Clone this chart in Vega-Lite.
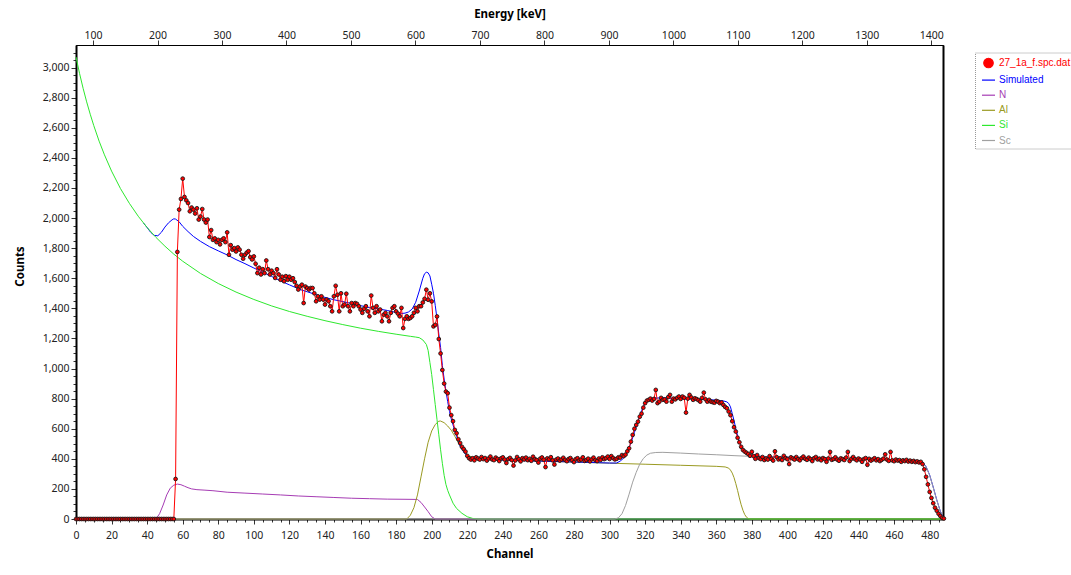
{
  "$schema": "https://vega.github.io/schema/vega-lite/v6.json",
  "width": 867,
  "height": 474,
  "autosize": {"type": "none"},
  "padding": {"left": 76, "top": 45, "right": 128, "bottom": 56},
  "background": "white",
  "config": {
    "font": "Noto Sans",
    "view": {"stroke": "#000", "strokeWidth": 1},
    "axis": {"labelFont": "Noto Sans", "labelFontSize": 10.5, "labelColor": "#222", "titleFont": "Noto Sans", "titleFontSize": 11.5, "titleFontWeight": "bold", "titleColor": "#000", "grid": false, "domainColor": "#000", "tickColor": "#333", "labelOverlap": false}
  },
  "datasets": {
    "obs": [
      {"ch":0,"c":0},{"ch":1,"c":0},{"ch":2,"c":0},{"ch":3,"c":0},{"ch":4,"c":0},{"ch":5,"c":0},{"ch":6,"c":0},{"ch":7,"c":0},{"ch":8,"c":0},{"ch":9,"c":0},
      {"ch":10,"c":0},{"ch":11,"c":0},{"ch":12,"c":0},{"ch":13,"c":0},{"ch":14,"c":0},{"ch":15,"c":0},{"ch":16,"c":0},{"ch":17,"c":0},{"ch":18,"c":0},{"ch":19,"c":0},
      {"ch":20,"c":0},{"ch":21,"c":0},{"ch":22,"c":0},{"ch":23,"c":0},{"ch":24,"c":0},{"ch":25,"c":0},{"ch":26,"c":0},{"ch":27,"c":0},{"ch":28,"c":0},{"ch":29,"c":0},
      {"ch":30,"c":0},{"ch":31,"c":0},{"ch":32,"c":0},{"ch":33,"c":0},{"ch":34,"c":0},{"ch":35,"c":0},{"ch":36,"c":0},{"ch":37,"c":0},{"ch":38,"c":0},{"ch":39,"c":0},
      {"ch":40,"c":0},{"ch":41,"c":0},{"ch":42,"c":0},{"ch":43,"c":0},{"ch":44,"c":0},{"ch":45,"c":0},{"ch":46,"c":0},{"ch":47,"c":0},{"ch":48,"c":0},{"ch":49,"c":0},
      {"ch":50,"c":0},{"ch":51,"c":0},{"ch":52,"c":0},{"ch":53,"c":0},{"ch":54,"c":0},{"ch":55,"c":0},{"ch":56,"c":266},{"ch":57,"c":1775},{"ch":58,"c":2056},{"ch":59,"c":2127},
      {"ch":60,"c":2262},{"ch":61,"c":2140},{"ch":62,"c":2118},{"ch":63,"c":2100},{"ch":64,"c":2045},{"ch":65,"c":2070},{"ch":66,"c":2056},{"ch":67,"c":2030},{"ch":68,"c":2065},{"ch":69,"c":1990},
      {"ch":70,"c":2010},{"ch":71,"c":2060},{"ch":72,"c":1990},{"ch":73,"c":1970},{"ch":74,"c":1990},{"ch":75,"c":1874},{"ch":76,"c":1920},{"ch":77,"c":1855},{"ch":78,"c":1865},{"ch":79,"c":1840},
      {"ch":80,"c":1855},{"ch":81,"c":1825},{"ch":82,"c":1855},{"ch":83,"c":1865},{"ch":84,"c":1840},{"ch":85,"c":1905},{"ch":86,"c":1756},{"ch":87,"c":1820},{"ch":88,"c":1790},{"ch":89,"c":1800},
      {"ch":90,"c":1778},{"ch":91,"c":1805},{"ch":92,"c":1790},{"ch":93,"c":1756},{"ch":94,"c":1730},{"ch":95,"c":1756},{"ch":96,"c":1770},{"ch":97,"c":1780},{"ch":98,"c":1740},{"ch":99,"c":1725},
      {"ch":100,"c":1745},{"ch":101,"c":1696},{"ch":102,"c":1634},{"ch":103,"c":1670},{"ch":104,"c":1625},{"ch":105,"c":1660},{"ch":106,"c":1634},{"ch":107,"c":1718},{"ch":108,"c":1660},{"ch":109,"c":1625},
      {"ch":110,"c":1650},{"ch":111,"c":1634},{"ch":112,"c":1602},{"ch":113,"c":1660},{"ch":114,"c":1625},{"ch":115,"c":1590},{"ch":116,"c":1610},{"ch":117,"c":1580},{"ch":118,"c":1614},{"ch":119,"c":1590},
      {"ch":120,"c":1610},{"ch":121,"c":1590},{"ch":122,"c":1600},{"ch":123,"c":1575},{"ch":124,"c":1550},{"ch":125,"c":1525},{"ch":126,"c":1545},{"ch":127,"c":1557},{"ch":128,"c":1435},{"ch":129,"c":1545},
      {"ch":130,"c":1535},{"ch":131,"c":1525},{"ch":132,"c":1535},{"ch":133,"c":1535},{"ch":134,"c":1500},{"ch":135,"c":1447},{"ch":136,"c":1480},{"ch":137,"c":1458},{"ch":138,"c":1480},{"ch":139,"c":1458},
      {"ch":140,"c":1425},{"ch":141,"c":1458},{"ch":142,"c":1447},{"ch":143,"c":1414},{"ch":144,"c":1380},{"ch":145,"c":1480},{"ch":146,"c":1550},{"ch":147,"c":1490},{"ch":148,"c":1380},{"ch":149,"c":1500},
      {"ch":150,"c":1414},{"ch":151,"c":1425},{"ch":152,"c":1497},{"ch":153,"c":1414},{"ch":154,"c":1380},{"ch":155,"c":1435},{"ch":156,"c":1414},{"ch":157,"c":1435},{"ch":158,"c":1430},{"ch":159,"c":1414},
      {"ch":160,"c":1392},{"ch":161,"c":1370},{"ch":162,"c":1397},{"ch":163,"c":1414},{"ch":164,"c":1380},{"ch":165,"c":1347},{"ch":166,"c":1485},{"ch":167,"c":1403},{"ch":168,"c":1370},{"ch":169,"c":1414},
      {"ch":170,"c":1380},{"ch":171,"c":1392},{"ch":172,"c":1314},{"ch":173,"c":1358},{"ch":174,"c":1370},{"ch":175,"c":1347},{"ch":176,"c":1314},{"ch":177,"c":1370},{"ch":178,"c":1403},{"ch":179,"c":1414},
      {"ch":180,"c":1380},{"ch":181,"c":1365},{"ch":182,"c":1347},{"ch":183,"c":1403},{"ch":184,"c":1269},{"ch":185,"c":1330},{"ch":186,"c":1347},{"ch":187,"c":1330},{"ch":188,"c":1336},{"ch":189,"c":1347},
      {"ch":190,"c":1370},{"ch":191,"c":1403},{"ch":192,"c":1380},{"ch":193,"c":1414},{"ch":194,"c":1414},{"ch":195,"c":1439},{"ch":196,"c":1463},{"ch":197,"c":1524},{"ch":198,"c":1457},{"ch":199,"c":1500},
      {"ch":200,"c":1446},{"ch":201,"c":1280},{"ch":202,"c":1290},{"ch":203,"c":1346},{"ch":204,"c":1196},{"ch":205,"c":1100},{"ch":206,"c":990},{"ch":207,"c":900},{"ch":208,"c":847},{"ch":209,"c":836},
      {"ch":210,"c":740},{"ch":211,"c":690},{"ch":212,"c":650},{"ch":213,"c":592},{"ch":214,"c":570},{"ch":215,"c":530},{"ch":216,"c":505},{"ch":217,"c":480},{"ch":218,"c":465},{"ch":219,"c":448},
      {"ch":220,"c":420},{"ch":221,"c":404},{"ch":222,"c":395},{"ch":223,"c":404},{"ch":224,"c":390},{"ch":225,"c":410},{"ch":226,"c":402},{"ch":227,"c":395},{"ch":228,"c":412},{"ch":229,"c":398},
      {"ch":230,"c":405},{"ch":231,"c":388},{"ch":232,"c":402},{"ch":233,"c":415},{"ch":234,"c":396},{"ch":235,"c":391},{"ch":236,"c":408},{"ch":237,"c":399},{"ch":238,"c":385},{"ch":239,"c":403},
      {"ch":240,"c":410},{"ch":241,"c":395},{"ch":242,"c":372},{"ch":243,"c":398},{"ch":244,"c":406},{"ch":245,"c":392},{"ch":246,"c":355},{"ch":247,"c":389},{"ch":248,"c":412},{"ch":249,"c":397},
      {"ch":250,"c":383},{"ch":251,"c":404},{"ch":252,"c":396},{"ch":253,"c":408},{"ch":254,"c":391},{"ch":255,"c":400},{"ch":256,"c":387},{"ch":257,"c":414},{"ch":258,"c":398},{"ch":259,"c":392},
      {"ch":260,"c":375},{"ch":261,"c":401},{"ch":262,"c":409},{"ch":263,"c":394},{"ch":264,"c":345},{"ch":265,"c":403},{"ch":266,"c":397},{"ch":267,"c":411},{"ch":268,"c":390},{"ch":269,"c":362},
      {"ch":270,"c":395},{"ch":271,"c":402},{"ch":272,"c":388},{"ch":273,"c":396},{"ch":274,"c":407},{"ch":275,"c":393},{"ch":276,"c":384},{"ch":277,"c":399},{"ch":278,"c":405},{"ch":279,"c":390},
      {"ch":280,"c":378},{"ch":281,"c":398},{"ch":282,"c":404},{"ch":283,"c":389},{"ch":284,"c":395},{"ch":285,"c":410},{"ch":286,"c":386},{"ch":287,"c":392},{"ch":288,"c":401},{"ch":289,"c":383},
      {"ch":290,"c":397},{"ch":291,"c":408},{"ch":292,"c":391},{"ch":293,"c":385},{"ch":294,"c":402},{"ch":295,"c":393},{"ch":296,"c":410},{"ch":297,"c":398},{"ch":298,"c":404},{"ch":299,"c":415},
      {"ch":300,"c":399},{"ch":301,"c":418},{"ch":302,"c":405},{"ch":303,"c":396},{"ch":304,"c":400},{"ch":305,"c":410},{"ch":306,"c":408},{"ch":307,"c":425},{"ch":308,"c":418},{"ch":309,"c":428},
      {"ch":310,"c":450},{"ch":311,"c":470},{"ch":312,"c":514},{"ch":313,"c":559},{"ch":314,"c":600},{"ch":315,"c":625},{"ch":316,"c":647},{"ch":317,"c":680},{"ch":318,"c":700},{"ch":319,"c":740},
      {"ch":320,"c":770},{"ch":321,"c":787},{"ch":322,"c":792},{"ch":323,"c":800},{"ch":324,"c":787},{"ch":325,"c":798},{"ch":326,"c":858},{"ch":327,"c":770},{"ch":328,"c":780},{"ch":329,"c":805},
      {"ch":330,"c":792},{"ch":331,"c":795},{"ch":332,"c":780},{"ch":333,"c":810},{"ch":334,"c":825},{"ch":335,"c":780},{"ch":336,"c":800},{"ch":337,"c":795},{"ch":338,"c":805},{"ch":339,"c":814},
      {"ch":340,"c":798},{"ch":341,"c":814},{"ch":342,"c":806},{"ch":343,"c":707},{"ch":344,"c":800},{"ch":345,"c":825},{"ch":346,"c":808},{"ch":347,"c":792},{"ch":348,"c":802},{"ch":349,"c":797},
      {"ch":350,"c":790},{"ch":351,"c":780},{"ch":352,"c":805},{"ch":353,"c":840},{"ch":354,"c":795},{"ch":355,"c":780},{"ch":356,"c":792},{"ch":357,"c":780},{"ch":358,"c":776},{"ch":359,"c":773},
      {"ch":360,"c":785},{"ch":361,"c":780},{"ch":362,"c":770},{"ch":363,"c":775},{"ch":364,"c":758},{"ch":365,"c":745},{"ch":366,"c":736},{"ch":367,"c":714},{"ch":368,"c":690},{"ch":369,"c":650},
      {"ch":370,"c":610},{"ch":371,"c":581},{"ch":372,"c":540},{"ch":373,"c":510},{"ch":374,"c":480},{"ch":375,"c":459},{"ch":376,"c":448},{"ch":377,"c":440},{"ch":378,"c":432},{"ch":379,"c":420},
      {"ch":380,"c":447},{"ch":381,"c":418},{"ch":382,"c":400},{"ch":383,"c":425},{"ch":384,"c":405},{"ch":385,"c":398},{"ch":386,"c":412},{"ch":387,"c":392},{"ch":388,"c":402},{"ch":389,"c":395},
      {"ch":390,"c":418},{"ch":391,"c":400},{"ch":392,"c":388},{"ch":393,"c":450},{"ch":394,"c":411},{"ch":395,"c":396},{"ch":396,"c":403},{"ch":397,"c":392},{"ch":398,"c":420},{"ch":399,"c":405},
      {"ch":400,"c":398},{"ch":401,"c":365},{"ch":402,"c":410},{"ch":403,"c":402},{"ch":404,"c":395},{"ch":405,"c":412},{"ch":406,"c":398},{"ch":407,"c":390},{"ch":408,"c":405},{"ch":409,"c":415},
      {"ch":410,"c":400},{"ch":411,"c":393},{"ch":412,"c":408},{"ch":413,"c":398},{"ch":414,"c":385},{"ch":415,"c":404},{"ch":416,"c":412},{"ch":417,"c":396},{"ch":418,"c":401},{"ch":419,"c":390},
      {"ch":420,"c":405},{"ch":421,"c":398},{"ch":422,"c":380},{"ch":423,"c":402},{"ch":424,"c":446},{"ch":425,"c":393},{"ch":426,"c":399},{"ch":427,"c":410},{"ch":428,"c":395},{"ch":429,"c":387},
      {"ch":430,"c":403},{"ch":431,"c":398},{"ch":432,"c":392},{"ch":433,"c":408},{"ch":434,"c":446},{"ch":435,"c":385},{"ch":436,"c":400},{"ch":437,"c":412},{"ch":438,"c":398},{"ch":439,"c":390},
      {"ch":440,"c":402},{"ch":441,"c":395},{"ch":442,"c":380},{"ch":443,"c":398},{"ch":444,"c":405},{"ch":445,"c":360},{"ch":446,"c":400},{"ch":447,"c":388},{"ch":448,"c":396},{"ch":449,"c":404},
      {"ch":450,"c":390},{"ch":451,"c":398},{"ch":452,"c":385},{"ch":453,"c":393},{"ch":454,"c":401},{"ch":455,"c":430},{"ch":456,"c":395},{"ch":457,"c":386},{"ch":458,"c":446},{"ch":459,"c":390},
      {"ch":460,"c":384},{"ch":461,"c":395},{"ch":462,"c":388},{"ch":463,"c":392},{"ch":464,"c":380},{"ch":465,"c":390},{"ch":466,"c":385},{"ch":467,"c":393},{"ch":468,"c":382},{"ch":469,"c":388},
      {"ch":470,"c":380},{"ch":471,"c":386},{"ch":472,"c":378},{"ch":473,"c":383},{"ch":474,"c":376},{"ch":475,"c":380},{"ch":476,"c":365},{"ch":477,"c":330},{"ch":478,"c":280},{"ch":479,"c":230},
      {"ch":480,"c":180},{"ch":481,"c":140},{"ch":482,"c":105},{"ch":483,"c":75},{"ch":484,"c":55},{"ch":485,"c":35},{"ch":486,"c":20},{"ch":487,"c":8},{"ch":488,"c":3}
    ],
    "sim": [
      {"ch":38,"c":1966},{"ch":40,"c":1937},{"ch":42,"c":1905},{"ch":44,"c":1885},{"ch":46,"c":1882},{"ch":48,"c":1905},{"ch":50,"c":1940},{"ch":52,"c":1968},{"ch":54,"c":1988},
      {"ch":55,"c":1995},{"ch":56,"c":1993},{"ch":58,"c":1975},{"ch":60,"c":1945},{"ch":63,"c":1910},{"ch":66,"c":1878},{"ch":70,"c":1845},{"ch":75,"c":1810},{"ch":80,"c":1782},{"ch":85,"c":1755},
      {"ch":90,"c":1724},{"ch":95,"c":1697},{"ch":100,"c":1668},{"ch":105,"c":1640},{"ch":110,"c":1612},{"ch":115,"c":1582},{"ch":120,"c":1556},{"ch":126,"c":1525},{"ch":130,"c":1510},{"ch":135,"c":1491},
      {"ch":140,"c":1473},{"ch":145,"c":1457},{"ch":150,"c":1445},{"ch":155,"c":1432},{"ch":160,"c":1418},{"ch":165,"c":1405},{"ch":170,"c":1396},{"ch":175,"c":1386},{"ch":180,"c":1372},{"ch":183,"c":1366},
      {"ch":185,"c":1368},{"ch":187,"c":1376},{"ch":189,"c":1395},{"ch":191,"c":1440},{"ch":193,"c":1515},{"ch":195,"c":1600},{"ch":196,"c":1630},{"ch":197,"c":1640},{"ch":198,"c":1636},{"ch":199,"c":1615},
      {"ch":200,"c":1560},{"ch":201,"c":1500},{"ch":202,"c":1420},{"ch":203,"c":1330},{"ch":204,"c":1230},{"ch":205,"c":1140},{"ch":206,"c":1020},{"ch":207,"c":930},{"ch":208,"c":850},{"ch":209,"c":780},
      {"ch":210,"c":715},{"ch":211,"c":665},{"ch":212,"c":625},{"ch":213,"c":585},{"ch":214,"c":550},{"ch":215,"c":515},{"ch":216,"c":485},{"ch":217,"c":462},{"ch":218,"c":445},{"ch":219,"c":430},
      {"ch":220,"c":418},{"ch":222,"c":405},{"ch":225,"c":400},{"ch":230,"c":396},{"ch":250,"c":388},{"ch":280,"c":379},{"ch":300,"c":372},{"ch":304,"c":372},{"ch":306,"c":385},{"ch":308,"c":405},
      {"ch":310,"c":445},{"ch":312,"c":505},{"ch":314,"c":575},{"ch":316,"c":650},{"ch":318,"c":720},{"ch":320,"c":772},{"ch":322,"c":795},{"ch":324,"c":803},{"ch":330,"c":805},{"ch":340,"c":800},
      {"ch":350,"c":797},{"ch":360,"c":790},{"ch":364,"c":785},{"ch":366,"c":778},{"ch":367,"c":768},{"ch":368,"c":745},{"ch":369,"c":700},{"ch":370,"c":655},{"ch":371,"c":600},{"ch":372,"c":555},
      {"ch":373,"c":515},{"ch":374,"c":485},{"ch":376,"c":450},{"ch":378,"c":425},{"ch":380,"c":418},{"ch":400,"c":411},{"ch":420,"c":406},{"ch":440,"c":400},{"ch":460,"c":394},{"ch":470,"c":390},
      {"ch":474,"c":387},{"ch":476,"c":378},{"ch":478,"c":348},{"ch":480,"c":292},{"ch":482,"c":212},{"ch":484,"c":127},{"ch":486,"c":52},{"ch":487,"c":26},{"ch":488,"c":9}
    ],
    "n": [
      {"ch":0,"c":0},{"ch":45,"c":0},{"ch":47,"c":35},{"ch":49,"c":93},{"ch":51,"c":160},{"ch":53,"c":205},{"ch":55,"c":225},{"ch":57,"c":232},{"ch":59,"c":228},{"ch":61,"c":218},
      {"ch":63,"c":208},{"ch":65,"c":200},{"ch":68,"c":195},{"ch":72,"c":192},{"ch":77,"c":188},{"ch":85,"c":178},{"ch":95,"c":172},{"ch":105,"c":166},{"ch":115,"c":160},{"ch":125,"c":153},
      {"ch":135,"c":148},{"ch":145,"c":143},{"ch":155,"c":138},{"ch":165,"c":135},{"ch":175,"c":132},{"ch":185,"c":131},{"ch":192,"c":130},{"ch":194,"c":110},{"ch":196,"c":80},{"ch":198,"c":49},
      {"ch":200,"c":15},{"ch":202,"c":0},{"ch":488,"c":0}
    ],
    "al": [
      {"ch":0,"c":0},{"ch":186,"c":0},{"ch":188,"c":25},{"ch":190,"c":75},{"ch":192,"c":160},{"ch":194,"c":280},{"ch":196,"c":400},{"ch":198,"c":510},{"ch":200,"c":585},{"ch":202,"c":628},
      {"ch":204,"c":650},{"ch":205,"c":651},{"ch":207,"c":640},{"ch":209,"c":618},{"ch":211,"c":590},{"ch":213,"c":550},{"ch":215,"c":505},{"ch":217,"c":465},{"ch":219,"c":438},{"ch":221,"c":420},
      {"ch":223,"c":410},{"ch":226,"c":402},{"ch":230,"c":397},{"ch":240,"c":392},{"ch":260,"c":385},{"ch":280,"c":378},{"ch":300,"c":371},{"ch":320,"c":364},{"ch":340,"c":357},{"ch":360,"c":350},
      {"ch":365,"c":346},{"ch":367,"c":338},{"ch":368,"c":325},{"ch":369,"c":305},{"ch":370,"c":275},{"ch":371,"c":235},{"ch":372,"c":190},{"ch":373,"c":140},{"ch":374,"c":95},{"ch":375,"c":58},
      {"ch":376,"c":30},{"ch":377,"c":12},{"ch":378,"c":3},{"ch":379,"c":0},{"ch":488,"c":0}
    ],
    "si": [
      {"ch":0,"c":3070},{"ch":2,"c":2961},{"ch":4,"c":2862},{"ch":6,"c":2772},{"ch":8,"c":2690},{"ch":10,"c":2614},{"ch":13,"c":2511},{"ch":16,"c":2420},{"ch":20,"c":2312},{"ch":25,"c":2196},
      {"ch":30,"c":2098},{"ch":35,"c":2012},{"ch":40,"c":1937},{"ch":45,"c":1871},{"ch":50,"c":1813},{"ch":55,"c":1760},{"ch":60,"c":1713},{"ch":70,"c":1632},{"ch":80,"c":1565},{"ch":90,"c":1508},
      {"ch":100,"c":1459},{"ch":110,"c":1416},{"ch":120,"c":1379},{"ch":130,"c":1347},{"ch":140,"c":1318},{"ch":150,"c":1292},{"ch":160,"c":1268},{"ch":170,"c":1247},{"ch":180,"c":1228},{"ch":188,"c":1214},
      {"ch":191,"c":1209},{"ch":193,"c":1205},{"ch":195,"c":1190},{"ch":197,"c":1160},{"ch":198,"c":1120},{"ch":199,"c":1040},{"ch":200,"c":960},{"ch":201,"c":860},{"ch":202,"c":760},{"ch":203,"c":660},
      {"ch":204,"c":560},{"ch":205,"c":460},{"ch":206,"c":370},{"ch":207,"c":290},{"ch":208,"c":230},{"ch":209,"c":190},{"ch":210,"c":160},{"ch":212,"c":105},{"ch":214,"c":70},{"ch":217,"c":38},
      {"ch":220,"c":15},{"ch":223,"c":4},{"ch":226,"c":0},{"ch":488,"c":0}
    ],
    "sc": [
      {"ch":0,"c":0},{"ch":303,"c":0},{"ch":305,"c":8},{"ch":307,"c":35},{"ch":309,"c":90},{"ch":311,"c":165},{"ch":313,"c":245},{"ch":315,"c":310},{"ch":317,"c":365},{"ch":319,"c":402},
      {"ch":321,"c":425},{"ch":323,"c":437},{"ch":326,"c":442},{"ch":330,"c":443},{"ch":340,"c":438},{"ch":350,"c":432},{"ch":360,"c":427},{"ch":370,"c":421},{"ch":380,"c":416},{"ch":400,"c":411},
      {"ch":420,"c":406},{"ch":440,"c":400},{"ch":460,"c":394},{"ch":470,"c":390},{"ch":474,"c":386},{"ch":476,"c":375},{"ch":478,"c":345},{"ch":480,"c":290},{"ch":482,"c":210},{"ch":484,"c":125},
      {"ch":486,"c":50},{"ch":487,"c":25},{"ch":488,"c":8}
    ]
  },
  "layer": [
    {
      "layer": [
        {
          "data": {"name": "n"},
          "mark": {"type": "line", "strokeWidth": 1},
          "encoding": {
            "x": {"field": "ch", "type": "quantitative", "scale": {"domain": [0, 487.5], "nice": false, "zero": false},
              "axis": {"orient": "bottom", "title": "Channel", "values": [0,5,10,15,20,25,30,35,40,45,50,55,60,65,70,75,80,85,90,95,100,105,110,115,120,125,130,135,140,145,150,155,160,165,170,175,180,185,190,195,200,205,210,215,220,225,230,235,240,245,250,255,260,265,270,275,280,285,290,295,300,305,310,315,320,325,330,335,340,345,350,355,360,365,370,375,380,385,390,395,400,405,410,415,420,425,430,435,440,445,450,455,460,465,470,475,480,485],
                "labelExpr": "datum.value % 20 === 0 ? datum.label : ''", "labelOverlap": false, "labelFlush": false, "labelBound": false,
                "tickSize": {"condition": {"test": "datum.value % 20 === 0", "value": 5}, "value": 3},
                "domainWidth": 2, "labelPadding": 6, "titlePadding": 8}},
            "y": {"field": "c", "type": "quantitative", "scale": {"domain": [0, 3150], "nice": false, "zero": true},
              "axis": {"orient": "left", "title": "Counts", "values": [0,50,100,150,200,250,300,350,400,450,500,550,600,650,700,750,800,850,900,950,1000,1050,1100,1150,1200,1250,1300,1350,1400,1450,1500,1550,1600,1650,1700,1750,1800,1850,1900,1950,2000,2050,2100,2150,2200,2250,2300,2350,2400,2450,2500,2550,2600,2650,2700,2750,2800,2850,2900,2950,3000,3050,3100],
                "labelExpr": "datum.value % 200 === 0 ? format(datum.value, ',') : ''", "labelOverlap": false, "labelFlush": false,
                "tickSize": {"condition": {"test": "datum.value % 200 === 0", "value": 5}, "value": 3},
                "domainWidth": 2, "labelPadding": 2, "titleX": -56, "titleY": 221, "titleAlign": "center", "titleBaseline": "middle", "titleAngle": 270}},
            "color": {"datum": "N", "type": "nominal",
              "scale": {"domain": ["27_1a_f.spc.dat", "Simulated", "N", "Al", "Si", "Sc"], "range": ["#ff0000", "#0000ff", "#a63cb4", "#9a9a22", "#2ee82e", "#a0a0a0"]},
              "legend": {
                "orient": "none", "legendX": 899, "legendY": 7.5, "title": null,
                "padding": 3, "symbolOffset": 3, "strokeColor": "#999999", "fillColor": "white",
                "labelFont": "Liberation Sans", "labelFontSize": 10, "labelOffset": 3, "rowPadding": 2.1,
                "symbolSize": 169, "symbolStrokeWidth": 1.2,
                "encode": {
                  "legend": {"update": {"strokeDash": {"value": [1, 1]}}},
                  "labels": {"update": {"fill": {"scale": "color", "field": "value"}}},
                  "symbols": {"update": {
                    "shape": {"signal": "datum.value === '27_1a_f.spc.dat' ? 'circle' : 'stroke'"},
                    "size": {"signal": "datum.value === '27_1a_f.spc.dat' ? 90 : 169"},
                    "fill": {"signal": "datum.value === '27_1a_f.spc.dat' ? '#ff0000' : 'transparent'"},
                    "stroke": {"signal": "datum.value === '27_1a_f.spc.dat' ? '#000000' : scale('color', datum.value)"},
                    "strokeWidth": {"value": 1.2},
                    "opacity": {"value": 1}
                  }}
                }
              }}
          }
        },
        {
          "data": {"name": "al"},
          "mark": {"type": "line", "strokeWidth": 1},
          "encoding": {
            "x": {"field": "ch", "type": "quantitative", "axis": null},
            "y": {"field": "c", "type": "quantitative", "axis": null},
            "color": {"datum": "Al", "type": "nominal"}
          }
        },
        {
          "data": {"name": "sim"},
          "mark": {"type": "line", "strokeWidth": 1},
          "encoding": {
            "x": {"field": "ch", "type": "quantitative", "axis": null},
            "y": {"field": "c", "type": "quantitative", "axis": {"orient": "right", "title": null, "labels": false, "ticks": false, "domainWidth": 2}},
            "color": {"datum": "Simulated", "type": "nominal"}
          }
        },
        {
          "data": {"name": "si"},
          "mark": {"type": "line", "strokeWidth": 1},
          "encoding": {
            "x": {"field": "ch", "type": "quantitative", "axis": null},
            "y": {"field": "c", "type": "quantitative", "axis": null},
            "color": {"datum": "Si", "type": "nominal"}
          }
        },
        {
          "data": {"name": "sc"},
          "mark": {"type": "line", "strokeWidth": 1},
          "encoding": {
            "x": {"field": "ch", "type": "quantitative", "axis": null},
            "y": {"field": "c", "type": "quantitative", "axis": null},
            "color": {"datum": "Sc", "type": "nominal"}
          }
        },
        {
          "data": {"name": "obs"},
          "mark": {"type": "line", "strokeWidth": 1},
          "encoding": {
            "x": {"field": "ch", "type": "quantitative", "axis": null},
            "y": {"field": "c", "type": "quantitative", "axis": null},
            "color": {"datum": "27_1a_f.spc.dat", "type": "nominal"}
          }
        },
        {
          "data": {"name": "obs"},
          "mark": {"type": "point", "filled": true, "size": 14, "stroke": "#1a1a1a", "strokeWidth": 0.9, "opacity": 1},
          "encoding": {
            "x": {"field": "ch", "type": "quantitative", "axis": null},
            "y": {"field": "c", "type": "quantitative", "axis": null},
            "color": {"datum": "27_1a_f.spc.dat", "type": "nominal"}
          }
        }
      ],
      "resolve": {"axis": {"x": "independent", "y": "independent"}}
    },
    {
      "data": {"values": [{"keV": 100}, {"keV": 1400}]},
      "mark": {"type": "point", "opacity": 0},
      "encoding": {
        "x": {"field": "keV", "type": "quantitative", "scale": {"domain": [73.6, 1418.1], "nice": false, "zero": false},
          "axis": {"orient": "top", "title": "Energy [keV]", "values": [100,200,300,400,500,600,700,800,900,1000,1100,1200,1300,1400], "format": "d", "tickSize": 5, "labelPadding": 0, "titlePadding": 11, "domainWidth": 1, "labelFlush": false, "labelOverlap": false}}
      }
    }
  ],
  "resolve": {"scale": {"x": "independent"}}
}
